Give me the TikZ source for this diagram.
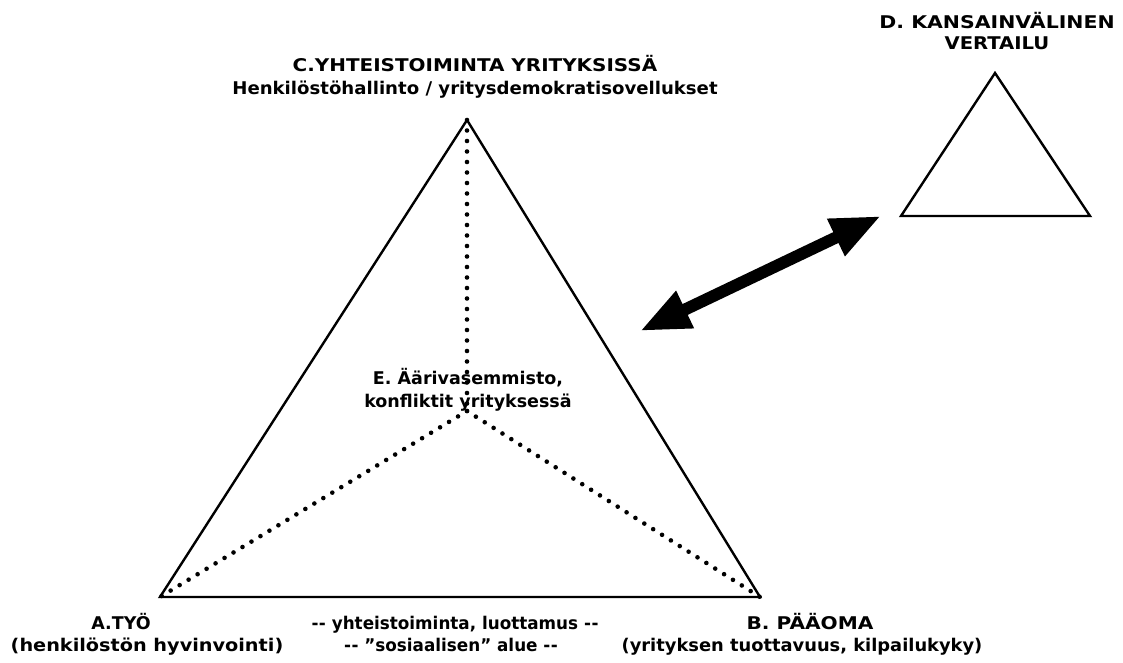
\documentclass[tikz,border=0pt]{standalone}
\usepackage{fontspec}
\setmainfont{DejaVu Sans}
\usetikzlibrary{arrows.meta}
\newcommand\dd{-\kern0.5pt-}
\newcommand\sx[2]{\scalebox{#1}[1]{#2}}
\tikzset{
  lbl/.style={font=\fontsize{17.5}{21}\selectfont\bfseries, inner sep=0pt, anchor=base},
  solidtri/.style={line width=2.4pt, line join=miter},
  dotline/.style={line width=4.6pt, line cap=round, dash pattern=on 0pt off 10.5pt},
  bigarrow/.style={line width=12pt, {Triangle[length=50pt,width=38pt]}-{Triangle[length=50pt,width=38pt]}}
}
\begin{document}
\begin{tikzpicture}[x=1pt,y=-1pt]
\useasboundingbox (0,0) rectangle (1123,663);
% main triangle
\coordinate (A) at (160,597);
\coordinate (B) at (760,597);
\coordinate (C) at (467,120);
\coordinate (E) at (467,411);
\draw[solidtri] (A) -- (B) -- (C) -- cycle;
\draw[dotline] (C) -- (E);
\draw[dotline] (E) -- (A);
\draw[dotline] (E) -- (B);
% small triangle
\coordinate (DA) at (901,216);
\coordinate (DB) at (1090,216);
\coordinate (DC) at (995,73);
\draw[solidtri] (DA) -- (DB) -- (DC) -- cycle;
% arrow
\coordinate (arrL) at (640,331);
\coordinate (arrR) at (881,216);
\draw[bigarrow] (arrL) -- (arrR);
% labels
\node[lbl] (c1) at (475,72) {\sx{1.14}{C.YHTEISTOIMINTA YRITYKSISSÄ}};
\node[lbl] (c2) at (475,95) {\sx{1.035}{Henkilöstöhallinto / yritysdemokratisovellukset}};
\node[lbl] (d1) at (997,29) {\sx{1.17}{D. KANSAINVÄLINEN}};
\node[lbl] (d2) at (997,50) {\sx{1.12}{VERTAILU}};
\node[lbl] (e1) at (468,384) {E. Äärivasemmisto,};
\node[lbl] (e2) at (468,407) {konfliktit yrityksessä};
\node[lbl] (a1) at (121,629) {A.TYÖ};
\node[lbl] (a2) at (147,651) {\sx{1.1}{(henkilöstön hyvinvointi)}};
\node[lbl] (m1) at (455,629) {\sx{0.96}{\dd{} yhteistoiminta, luottamus \dd}};
\node[lbl] (m2) at (451,651) {\sx{0.96}{\dd{} ”sosiaalisen” alue \dd}};
\node[lbl] (b1) at (810,629) {\sx{1.15}{B. PÄÄOMA}};
\node[lbl] (b2) at (802,651) {\sx{1.02}{(yrityksen tuottavuus, kilpailukyky)}};
\end{tikzpicture}
\end{document}
